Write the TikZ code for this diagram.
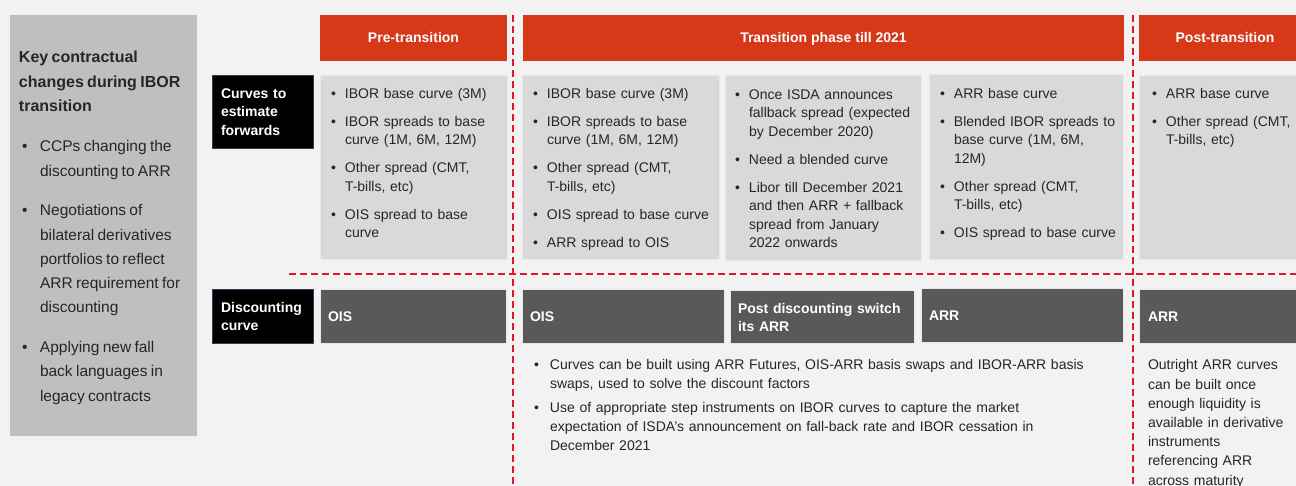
\documentclass[tikz,border=0pt]{standalone}
\usepackage{fontspec}
\setmainfont{Liberation Sans}
\definecolor{bgc}{RGB}{242,242,242}
\definecolor{leftgray}{RGB}{191,191,191}
\definecolor{hdrred}{RGB}{214,56,24}
\definecolor{boxgray}{RGB}{217,217,217}
\definecolor{edgegray}{RGB}{232,232,232}
\definecolor{dboxc}{RGB}{89,89,89}
\definecolor{navyedge}{RGB}{47,62,90}
\definecolor{txtgray}{RGB}{38,38,38}
\definecolor{sepred}{RGB}{222,22,50}
% bullet item: #1 hanging indent, #2 text; ends its own paragraph
\newcommand{\bitem}[2][14pt]{\noindent\hangindent=#1\hangafter=1\makebox[#1][l]{\textbullet}#2\par}
% bullet item with the bullet shifted right a little
\newcommand{\litem}[1]{\noindent\hangindent=21pt\hangafter=1\makebox[21pt][l]{\hspace*{3pt}\textbullet}#1\par}
\begin{document}
\begin{tikzpicture}[x=1pt,y=-1pt,
  every node/.style={inner sep=0pt, outer sep=0pt},
  panel/.style={fill=leftgray, anchor=north west},
  hdr/.style={fill=hdrred, anchor=north west, minimum height=46pt},
  gbox/.style={fill=boxgray, draw=edgegray, line width=0.6pt, anchor=north west},
  dbox/.style={fill=dboxc, draw=edgegray, line width=0.6pt, anchor=north west},
  bbox/.style={fill=black, draw=navyedge, line width=0.8pt, anchor=north west},
  hdrtxt/.style={text=white, font=\bfseries\fontsize{14}{17}\selectfont, anchor=base},
  whtxt/.style={text=white, font=\bfseries\fontsize{14}{18}\selectfont, anchor=base west, align=left, text width=180pt},
  btxt/.style={text=txtgray, font=\fontsize{14}{18.5}\selectfont, anchor=base west, align=left},
  sep/.style={draw=sepred, line width=1.8pt, dash pattern=on 7pt off 4pt}
]
\clip (0,0) rectangle (1296,486);
\fill[bgc] (0,0) rectangle (1296,486);

% left panel
\node[panel, minimum width=187pt, minimum height=421pt] (left) at (10,15) {};
\node[text=txtgray, anchor=base west, align=left, text width=176pt] (lefttxt) at (19,63) {%
{\bfseries\fontsize{16}{24.5}\selectfont Key contractual\newline changes during IBOR\newline transition\par}%
\fontsize{15.5}{24.2}\selectfont\setlength{\parskip}{15.7pt}%
\litem{CCPs changing the\newline discounting to ARR}%
\litem{Negotiations of\newline bilateral derivatives\newline portfolios to reflect\newline ARR requirement for\newline discounting}%
\litem{Applying new fall\newline back languages in\newline legacy contracts}};

% row labels
\node[bbox, minimum width=101pt, minimum height=73pt] (curves) at (212,75) {};
\node[whtxt, font=\bfseries\fontsize{14}{18.5}\selectfont, text width=90pt] (curvestxt) at (221,98.5) {Curves to\\estimate\\forwards};
\node[bbox, minimum width=101pt, minimum height=54pt] (disc) at (212,289) {};
\node[whtxt, text width=90pt] (disctxt) at (221,312.5) {Discounting\\curve};

% headers
\node[hdr, minimum width=187pt] (hpre) at (320,15) {};
\node[hdrtxt] (hpretxt) at (413.5,43) {Pre-transition};
\node[hdr, minimum width=601pt] (htr) at (523,15) {};
\node[hdrtxt] (htrtxt) at (823.5,43) {Transition phase till 2021};
\node[hdr, minimum width=175pt] (hpost) at (1139,15) {};
\node[hdrtxt] (hposttxt) at (1225,43) {Post-transition};

% curves row
\node[gbox, minimum width=187pt, minimum height=184pt] (gpre) at (320,75) {};
\node[btxt, text width=172pt] (gpretxt) at (331,98.5) {\setlength{\parskip}{9.5pt}%
\bitem{IBOR base curve (3M)}%
\bitem{IBOR spreads to base\newline curve (1M, 6M, 12M)}%
\bitem{Other spread (CMT,\newline T-bills, etc)}%
\bitem{OIS spread to base\newline curve}};

\node[gbox, minimum width=197pt, minimum height=184pt] (gt1) at (522,75) {};
\node[btxt, text width=184pt] (gt1txt) at (533,98.5) {\setlength{\parskip}{9.5pt}%
\bitem{IBOR base curve (3M)}%
\bitem{IBOR spreads to base\newline curve (1M, 6M, 12M)}%
\bitem{Other spread (CMT,\newline T-bills, etc)}%
\bitem{OIS spread to base curve}%
\bitem{ARR spread to OIS}};

\node[gbox, minimum width=196pt, minimum height=185pt] (gt2) at (725,75) {};
\node[btxt, text width=184pt] (gt2txt) at (735,99.5) {\setlength{\parskip}{9.5pt}%
\bitem{Once ISDA announces\newline fallback spread (expected\newline by December 2020)}%
\bitem{Need a blended curve}%
\bitem{Libor till December 2021\newline and then ARR + fallback\newline spread from January\newline 2022 onwards}};

\node[gbox, minimum width=194pt, minimum height=185pt] (gt3) at (929,74) {};
\node[btxt, text width=182pt] (gt3txt) at (940,98.5) {\setlength{\parskip}{9.5pt}%
\bitem{ARR base curve}%
\bitem{Blended IBOR spreads to\newline base curve (1M, 6M,\newline 12M)}%
\bitem{Other spread (CMT,\newline T-bills, etc)}%
\bitem{OIS spread to base curve}};

\node[gbox, minimum width=175pt, minimum height=184pt] (gpost) at (1139,75) {};
\node[btxt, text width=160pt] (gposttxt) at (1152,98.5) {\setlength{\parskip}{9.5pt}%
\bitem{ARR base curve}%
\bitem{Other spread (CMT,\newline T-bills, etc)}};

% discounting row
\node[dbox, minimum width=186pt, minimum height=54pt] (dpre) at (320,289) {};
\node[whtxt] (dpretxt) at (328,322) {OIS};
\node[dbox, minimum width=202pt, minimum height=54pt] (dt1) at (522,289) {};
\node[whtxt] (dt1txt) at (530,322) {OIS};
\node[dbox, minimum width=184pt, minimum height=53pt] (dt2) at (730,290) {};
\node[whtxt] (dt2txt) at (738,313.5) {Post discounting switch\\its ARR};
\node[dbox, minimum width=202pt, minimum height=54pt] (dt3) at (921,288) {};
\node[whtxt] (dt3txt) at (929,321) {ARR};
\node[dbox, minimum width=175pt, minimum height=54pt] (dpost) at (1139,289) {};
\node[whtxt, text width=140pt] (dposttxt) at (1148,322) {ARR};

% notes
\node[btxt, font=\fontsize{14}{19}\selectfont, text width=590pt] (ntr) at (534,370) {\setlength{\parskip}{4.2pt}%
\bitem[16pt]{Curves can be built using ARR Futures, OIS-ARR basis swaps and IBOR-ARR basis\newline swaps, used to solve the discount factors}%
\bitem[16pt]{Use of appropriate step instruments on IBOR curves to capture the market\newline expectation of ISDA’s announcement on fall-back rate and IBOR cessation in\newline December 2021}};
\node[btxt, font=\fontsize{14}{19.2}\selectfont, text width=160pt] (npost) at (1148,370) {Outright ARR curves\\can be built once\\enough liquidity is\\available in derivative\\instruments\\referencing ARR\\across maturity};

% separators
\coordinate (v1t) at (513,15); \coordinate (v1b) at (513,490);
\coordinate (v2t) at (1133,15); \coordinate (v2b) at (1133,490);
\coordinate (hl) at (289,274); \coordinate (hr) at (1300,274);
\draw[sep] (hl) -- (hr);
\draw[sep] (v1t) -- (v1b);
\draw[sep] (v2t) -- (v2b);
\end{tikzpicture}
\end{document}
